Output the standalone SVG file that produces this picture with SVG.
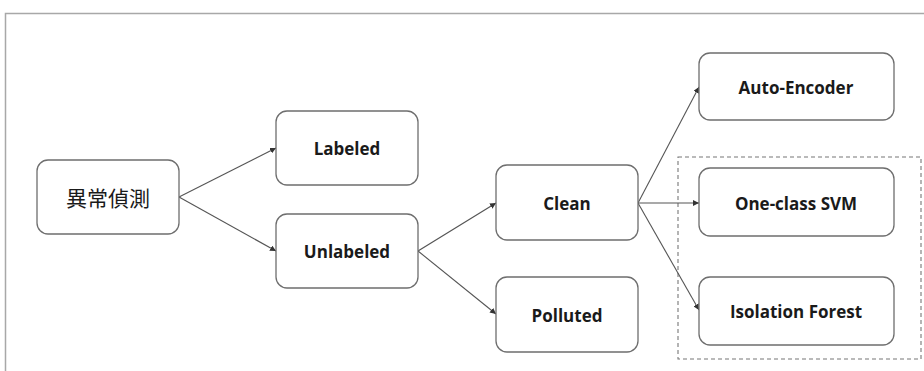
<svg xmlns="http://www.w3.org/2000/svg" width="924" height="371" viewBox="0 0 924 371">
  <style>
    .box { fill: #ffffff; stroke: #6e6e6e; stroke-width: 1.3; }
    .lbl { font-family: "Open Sans", "Liberation Sans", sans-serif; font-weight: bold; font-size: 17px; fill: #1a1a1a; text-anchor: middle; dominant-baseline: central; }
    .cjk { font-family: "Noto Sans CJK TC", "Noto Sans", sans-serif; font-weight: normal; font-size: 21px; fill: #1a1a1a; text-anchor: middle; dominant-baseline: central; }
    .edge { fill: none; stroke: #555555; stroke-width: 1.1; marker-end: url(#arrow); }
  </style>
  <defs>
    <marker id="arrow" viewBox="0 0 10 10" refX="10" refY="5" markerWidth="6" markerHeight="6" markerUnits="userSpaceOnUse" orient="auto">
      <path d="M0,0 L10,5 L0,10 z" fill="#333333"/>
    </marker>
  </defs>
  <rect width="924" height="371" fill="#ffffff"/>
  <!-- outer frame -->
  <path d="M5.5,371 L5.5,13.5 L924,13.5" fill="none" stroke="#a8a8a8" stroke-width="1.5"/>

  <!-- grouping of one-class models -->
  <rect x="678" y="157" width="243" height="202" fill="none" stroke="#777777" stroke-width="1.1" stroke-dasharray="4,3"/>

  <g id="connectors">
    <line class="edge" x1="179" y1="197" x2="276" y2="148"/>
    <line class="edge" x1="179" y1="197" x2="276" y2="251"/>
    <line class="edge" x1="418" y1="251" x2="496" y2="203"/>
    <line class="edge" x1="418" y1="251" x2="496" y2="314"/>
    <line class="edge" x1="638" y1="203" x2="699" y2="87"/>
    <line class="edge" x1="638" y1="203" x2="699" y2="203"/>
    <line class="edge" x1="638" y1="203" x2="699" y2="310"/>
  </g>

  <g id="anomaly">
    <rect class="box" x="37" y="160" width="142" height="74" rx="11"/>
    <text class="cjk" x="108" y="197">異常偵測</text>
  </g>
  <g id="labeled">
    <rect class="box" x="276" y="111" width="142" height="74" rx="11"/>
    <text class="lbl" x="347" y="148">Labeled</text>
  </g>
  <g id="unlabeled">
    <rect class="box" x="276" y="214" width="142" height="74" rx="11"/>
    <text class="lbl" x="347" y="251">Unlabeled</text>
  </g>
  <g id="clean">
    <rect class="box" x="496" y="165" width="142" height="75" rx="11"/>
    <text class="lbl" x="567" y="203">Clean</text>
  </g>
  <g id="polluted">
    <rect class="box" x="496" y="277" width="142" height="75" rx="11"/>
    <text class="lbl" x="567" y="315">Polluted</text>
  </g>
  <g id="auto-encoder">
    <rect class="box" x="699" y="53" width="195" height="67" rx="11"/>
    <text class="lbl" x="796" y="87">Auto-Encoder</text>
  </g>
  <g id="one-class-svm">
    <rect class="box" x="699" y="168" width="195" height="68" rx="11"/>
    <text class="lbl" x="796" y="203">One-class SVM</text>
  </g>
  <g id="isolation-forest">
    <rect class="box" x="699" y="277" width="195" height="68" rx="11"/>
    <text class="lbl" x="796" y="311">Isolation Forest</text>
  </g>
</svg>
